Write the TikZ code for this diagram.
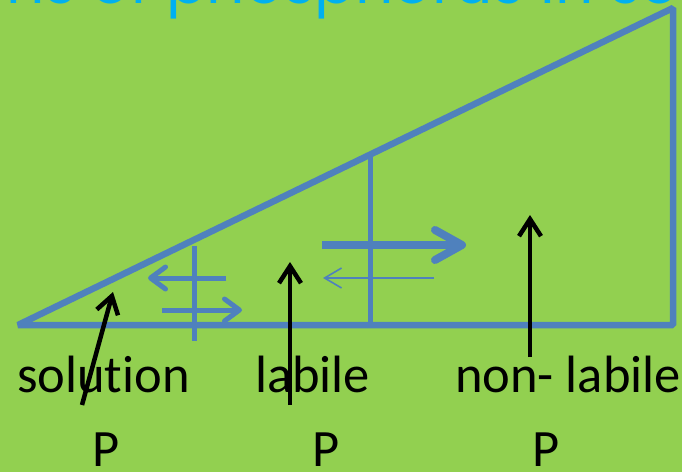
\documentclass[tikz,border=0pt]{standalone}
\usepackage{fontspec}
\setmainfont{Carlito}[Ligatures={NoCommon,NoContextual}]
\newfontfamily\titlefont{Poppins}
\usetikzlibrary{arrows.meta}
\definecolor{bg}{HTML}{92D050}
\definecolor{lineblue}{HTML}{4F81BD}
\definecolor{titlecyan}{HTML}{00B0F0}
\begin{document}
\begin{tikzpicture}[x=1pt,y=-1pt,
  tri/.style={draw=lineblue,line width=6.5pt,line join=bevel},
  divider/.style={draw=lineblue,line width=5pt},
  flow/.style={draw=lineblue,line width=5pt,-{Straight Barb[length=15pt,width=22pt,round]}},
  bigflow/.style={draw=lineblue,line width=8pt,-{Straight Barb[length=27pt,width=30pt,round]}},
  thinflow/.style={draw=lineblue,line width=1.6pt,-{Straight Barb[length=17pt,width=20pt]}},
  pointer/.style={draw=black,line width=4.5pt,-{Straight Barb[length=17pt,width=22pt]}},
  lbl/.style={font=\fontsize{52.5}{60}\selectfont, anchor=base west, inner sep=0pt, text=black},
  ttl/.style={font=\titlefont\fontsize{60}{72}\selectfont, anchor=base west, inner sep=0pt, text=titlecyan}
]
\fill[bg] (0,0) rectangle (682,472);
\useasboundingbox (0,0) rectangle (682,472);

% title (cut off at top)
\node[ttl] (title) at (6,3) {ns of phosphorus in so};

% triangle
\coordinate (L) at (18,325);
\coordinate (T) at (673,8);
\coordinate (R) at (673,325);
\draw[tri] (L) -- (T) -- (R) -- cycle;

% dividers
\coordinate (d1t) at (194,246);
\coordinate (d1b) at (194,341);
\coordinate (d2t) at (370,153);
\coordinate (d2b) at (370,325);
\draw[divider] (d1t) -- (d1b);
\draw[divider] (d2t) -- (d2b);

% exchange arrows
\coordinate (a1s) at (226,278); \coordinate (a1e) at (148,278);
\coordinate (a2s) at (162,310); \coordinate (a2e) at (242,310);
\coordinate (a3s) at (322,245); \coordinate (a3e) at (466,245);
\coordinate (a4s) at (434,278); \coordinate (a4e) at (323,278);
\draw[flow] (a1s) -- (a1e);
\draw[flow] (a2s) -- (a2e);
\draw[bigflow] (a3s) -- (a3e);
\draw[thinflow] (a4s) -- (a4e);

% labels
\node[lbl] (sol) at (17,392) {solution};
\node[lbl] (lab) at (255,392) {labile};
\node[lbl] (non) at (455,392) {non- labile};
\node[lbl] (p1) at (92,466) {P};
\node[lbl] (p2) at (312,466) {P};
\node[lbl] (p3) at (532,466) {P};

% pointers
\coordinate (s1) at (82,405); \coordinate (e1) at (113,292);
\coordinate (s2) at (290,405); \coordinate (e2) at (290,262);
\coordinate (s3) at (530,357); \coordinate (e3) at (530,215);
\draw[pointer] (s1) -- (e1);
\draw[pointer] (s2) -- (e2);
\draw[pointer] (s3) -- (e3);
\end{tikzpicture}
\end{document}
